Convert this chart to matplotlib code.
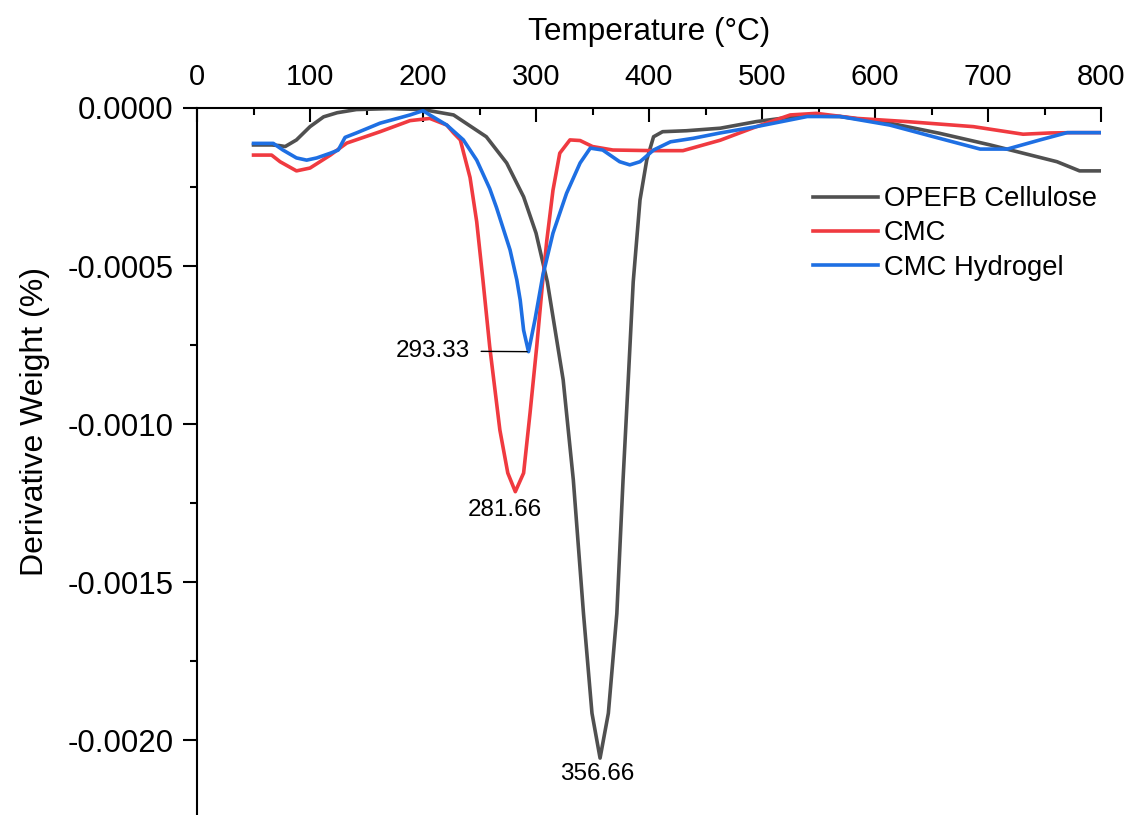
import numpy as np
import matplotlib
matplotlib.use('Agg')
import matplotlib.pyplot as plt
from matplotlib.ticker import MultipleLocator, FormatStrFormatter

plt.rcParams['font.family'] = ['Liberation Sans', 'DejaVu Sans']

# ---- data (temperature in °C, derivative weight in %) ----
opefb_t = [50, 66, 73, 78, 88, 100, 112, 124, 141, 170, 200, 227, 256, 274, 289, 300,
           310, 324, 333, 342, 349.5, 356.66, 364, 371.5, 377, 381.6, 386, 392, 398,
           404, 412, 433, 463, 495, 534, 569, 613, 657, 702, 731, 761, 781, 800]
opefb_w = [-1.17e-4, -1.17e-4, -1.19e-4, -1.22e-4, -1.01e-4, -0.59e-4, -0.28e-4,
           -0.15e-4, -0.05e-4, -0.02e-4, -0.05e-4, -0.22e-4, -0.91e-4, -1.74e-4,
           -2.81e-4, -3.96e-4, -5.5e-4, -8.6e-4, -11.77e-4, -16.0e-4, -19.15e-4,
           -20.57e-4, -19.15e-4, -16.0e-4, -11.77e-4, -8.6e-4, -5.5e-4, -2.91e-4,
           -1.64e-4, -0.91e-4, -0.75e-4, -0.72e-4, -0.64e-4, -0.43e-4, -0.25e-4,
           -0.27e-4, -0.48e-4, -0.80e-4, -1.17e-4, -1.43e-4, -1.70e-4, -1.99e-4,
           -1.99e-4]

cmc_t = [50, 66, 73.5, 88, 100, 118, 132.5, 162, 188.5, 206, 221, 227, 233, 236,
         241.6, 247.5, 253, 259, 268, 275, 281.66, 289, 294.7, 300.6, 306,
         309.5, 315, 321, 330, 339, 350, 368, 404, 430, 448, 463, 495, 525, 548,
         584, 628, 687, 731, 755, 775, 800]
cmc_w = [-1.49e-4, -1.49e-4, -1.70e-4, -1.99e-4, -1.90e-4, -1.49e-4, -1.11e-4,
         -0.75e-4, -0.40e-4, -0.33e-4, -0.54e-4, -0.79e-4, -1.01e-4, -1.43e-4,
         -2.2e-4, -3.6e-4, -5.44e-4, -7.55e-4, -10.19e-4, -11.55e-4,
         -12.14e-4, -11.55e-4, -9.65e-4, -7.55e-4, -5.44e-4, -4.2e-4, -2.60e-4,
         -1.43e-4, -1.01e-4, -1.03e-4, -1.22e-4, -1.33e-4, -1.35e-4, -1.35e-4,
         -1.17e-4, -1.02e-4, -0.59e-4, -0.22e-4, -0.17e-4, -0.33e-4, -0.43e-4,
         -0.59e-4, -0.83e-4, -0.79e-4, -0.78e-4, -0.78e-4]

gel_t = [50, 67.5, 76, 88, 97, 106, 118, 125, 131, 141, 162, 188.5, 200, 206, 221,
         235.7, 247.5, 259, 265, 277, 283, 286, 289, 293.33, 299, 306, 315, 327,
         339, 348, 359, 374, 383, 392, 404, 419, 439, 463, 495, 540, 569, 613, 657,
         693, 717, 746, 770, 800]
gel_w = [-1.12e-4, -1.12e-4, -1.33e-4, -1.58e-4, -1.65e-4, -1.58e-4, -1.43e-4,
         -1.33e-4, -0.93e-4, -0.79e-4, -0.48e-4, -0.22e-4, -0.085e-4, -0.22e-4,
         -0.54e-4, -1.01e-4, -1.65e-4, -2.55e-4, -3.15e-4, -4.49e-4, -5.44e-4,
         -6.08e-4, -7.03e-4, -7.71e-4, -6.71e-4, -5.3e-4, -3.96e-4, -2.70e-4,
         -1.74e-4, -1.27e-4, -1.33e-4, -1.70e-4, -1.80e-4, -1.70e-4, -1.33e-4,
         -1.07e-4, -0.96e-4, -0.79e-4, -0.59e-4, -0.27e-4, -0.27e-4, -0.54e-4,
         -0.96e-4, -1.30e-4, -1.30e-4, -1.01e-4, -0.78e-4, -0.78e-4]

labels = ['OPEFB Cellulose', 'CMC', 'CMC Hydrogel']
colors = ['#505050', '#f03a40', '#1e6fe3']

fig = plt.figure(figsize=(11.33, 8.15), dpi=100)
ax = fig.add_axes([0.1739, 0.0, 0.7979, 0.8675])

ax.plot(opefb_t, opefb_w, color=colors[0], lw=2.6, label=labels[0])
ax.plot(cmc_t, cmc_w, color=colors[1], lw=2.6, label=labels[1])
ax.plot(gel_t, gel_w, color=colors[2], lw=2.6, label=labels[2])

# peak labels
i = int(np.argmin(gel_w))
ax.annotate(f'{gel_t[i]:.2f}', xy=(gel_t[i], gel_w[i]), xytext=(241.6, gel_w[i] + 0.02e-4),
            ha='right', va='center', fontsize=17.5,
            arrowprops=dict(arrowstyle='-', color='black', lw=1, shrinkA=6, shrinkB=1))
i = int(np.argmin(cmc_w))
ax.text(cmc_t[i] - 9, cmc_w[i] - 0.58e-4, f'{cmc_t[i]:.2f}', ha='center', va='center',
        fontsize=17.5)
i = int(np.argmin(opefb_w))
ax.text(opefb_t[i] - 2.5, opefb_w[i] - 0.5e-4, f'{opefb_t[i]:.2f}', ha='center',
        va='center', fontsize=17.5)

ax.set_xlim(0, 800)
ax.set_ylim(-0.002237, 0)

for s in ['right', 'bottom']:
    ax.spines[s].set_visible(False)
ax.spines['left'].set_linewidth(1.5)
ax.spines['top'].set_linewidth(1.5)

ax.xaxis.tick_top()
ax.xaxis.set_label_position('top')
ax.xaxis.set_major_locator(MultipleLocator(100))
ax.xaxis.set_minor_locator(MultipleLocator(50))
ax.yaxis.set_major_locator(MultipleLocator(0.0005))
ax.yaxis.set_minor_locator(MultipleLocator(0.00025))
ax.yaxis.set_major_formatter(FormatStrFormatter('%.4f'))

ax.tick_params(axis='x', which='major', direction='in', length=10, width=1.5,
               labelsize=21, pad=12)
ax.tick_params(axis='x', which='minor', direction='in', length=5, width=1.5)
ax.tick_params(axis='y', which='major', direction='out', length=10, width=1.5,
               labelsize=22.5, pad=7)
ax.tick_params(axis='y', which='minor', direction='out', length=5, width=1.5)

ax.set_xlabel('Temperature (°C)', fontsize=22.7)
ax.xaxis.set_label_coords(0.5, 1.096)
ax.set_ylabel('Derivative Weight (%)', fontsize=23)
ax.yaxis.set_label_coords(-0.163, 0.557)

ax.legend(loc='upper left', bbox_to_anchor=(0.681, 0.8895), frameon=False,
          fontsize=19.7, handlelength=2.4, handletextpad=0.2, labelspacing=0.3,
          borderpad=0, borderaxespad=0)

fig.savefig('out.png', dpi=100)
